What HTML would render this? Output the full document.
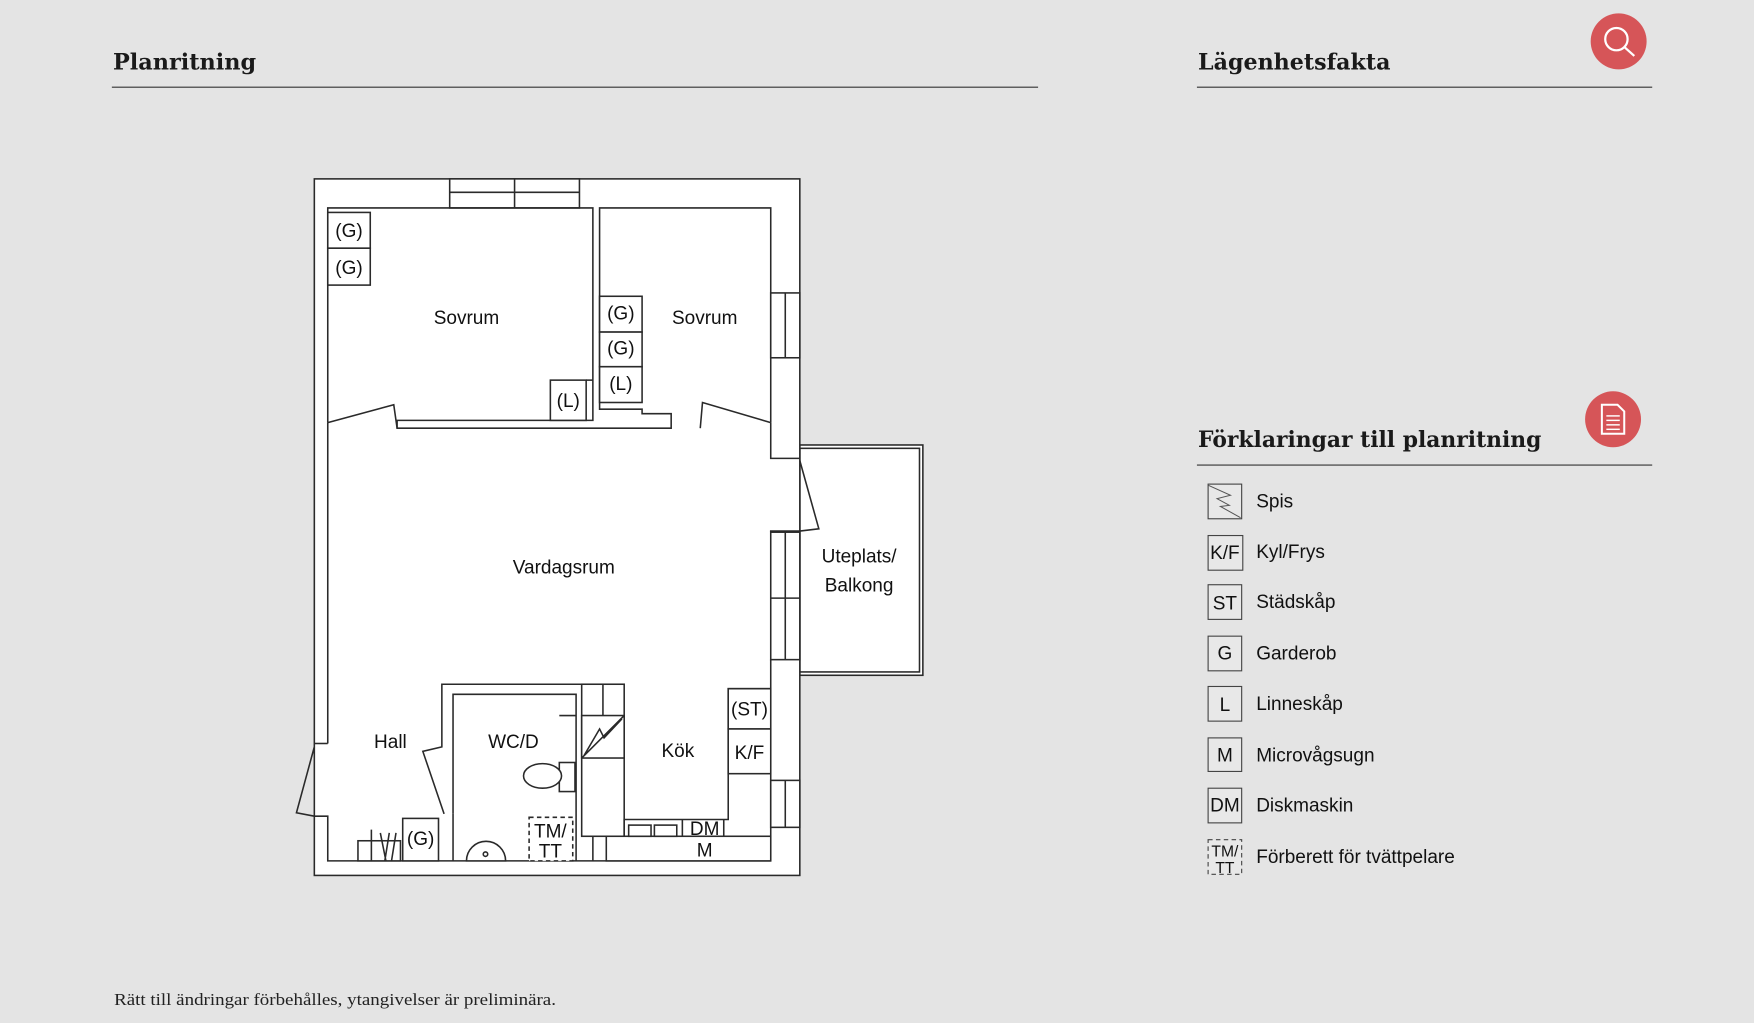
<!DOCTYPE html>
<html><head><meta charset="utf-8"><style>
html,body{margin:0;padding:0;background:#e4e4e4;}
svg{display:block}
</style></head><body>
<svg width="1754" height="1023" viewBox="0 0 1568 915" preserveAspectRatio="none" xmlns="http://www.w3.org/2000/svg">
<rect width="1568" height="915" fill="#e4e4e4"/>
<g font-family="DejaVu Serif, serif" fill="#1a1a1a" font-weight="bold">
<text x="101" y="62" font-size="20" textLength="128" lengthAdjust="spacingAndGlyphs">Planritning</text>
<text x="1071" y="62" font-size="20" textLength="172" lengthAdjust="spacingAndGlyphs">Lägenhetsfakta</text>
<text x="1071" y="400" font-size="20" textLength="307" lengthAdjust="spacingAndGlyphs">Förklaringar till planritning</text>
</g>
<line x1="100" y1="78" x2="928" y2="78" stroke="#333" stroke-width="1"/>
<line x1="1070" y1="78" x2="1477" y2="78" stroke="#333" stroke-width="1"/>
<line x1="1070" y1="416" x2="1477" y2="416" stroke="#333" stroke-width="1"/>
<circle cx="1447" cy="37" r="25" fill="#d65558"/>
<circle cx="1445" cy="35" r="10" fill="none" stroke="#fff" stroke-width="2"/>
<line x1="1452" y1="42" x2="1461" y2="50" stroke="#fff" stroke-width="2"/>
<circle cx="1442" cy="375" r="25" fill="#d65558"/>
<path d="M1432 362 h14 l6 6 v20 h-20 z" fill="none" stroke="#fff" stroke-width="1.8"/>
<g stroke="#fff" stroke-width="1.3"><line x1="1436" y1="372" x2="1448" y2="372"/><line x1="1436" y1="376" x2="1448" y2="376"/><line x1="1436" y1="380" x2="1448" y2="380"/><line x1="1436" y1="384" x2="1448" y2="384"/></g>

<!-- legend -->
<g font-family="Liberation Sans, sans-serif" font-size="17" fill="#111">
<g fill="#e8e8e8" stroke="#444" stroke-width="1">
<rect x="1080" y="433" width="30" height="31"/>
<rect x="1080" y="479" width="31" height="31"/>
<rect x="1080" y="523" width="30" height="31"/>
<rect x="1080" y="569" width="30" height="31"/>
<rect x="1080" y="614" width="30" height="31"/>
<rect x="1080" y="660" width="30" height="30"/>
<rect x="1080" y="705" width="30" height="31"/>
<rect x="1080" y="751" width="30" height="31" stroke-dasharray="4 3"/>
</g>
<path d="M1080 434 L1100 443 L1088 446 L1099 452 L1091 453 L1109 463" fill="none" stroke="#555" stroke-width="0.9"/>
<text x="1095" y="500" text-anchor="middle">K/F</text>
<text x="1095" y="545" text-anchor="middle">ST</text>
<text x="1095" y="590" text-anchor="middle">G</text>
<text x="1095" y="636" text-anchor="middle">L</text>
<text x="1095" y="681" text-anchor="middle">M</text>
<text x="1095" y="726" text-anchor="middle">DM</text>
<text x="1095" y="766" text-anchor="middle" font-size="14">TM/</text>
<text x="1095" y="781" text-anchor="middle" font-size="14">TT</text>
<text x="1123" y="454">Spis</text>
<text x="1123" y="499">Kyl/Frys</text>
<text x="1123" y="544">Städskåp</text>
<text x="1123" y="590">Garderob</text>
<text x="1123" y="635">Linneskåp</text>
<text x="1123" y="681">Microvågsugn</text>
<text x="1123" y="726">Diskmaskin</text>
<text x="1123" y="772">Förberett för tvättpelare</text>
</g>
<text x="102" y="899" font-family="Liberation Serif, serif" font-size="15" fill="#222" textLength="395" lengthAdjust="spacingAndGlyphs">Rätt till ändringar förbehålles, ytangivelser är preliminära.</text>

<!-- floor plan -->
<g fill="#fff" stroke="#2a2a2a" stroke-width="1.4">
<rect x="715" y="398" width="110" height="206"/>
<rect x="715" y="401" width="107" height="200" fill="none"/>
<rect x="281" y="160" width="434" height="623"/>
<rect x="402" y="160" width="116" height="26"/>
<line x1="460" y1="160" x2="460" y2="186"/><line x1="402" y1="172" x2="518" y2="172"/>
<path d="M293 378 V186 H530 V376 H355 V383 H600 V370 H574 V366 H536 V186 H689 V378" fill="none"/>
<path d="M293 378 L352 362 L355 383" fill="none"/>
<path d="M689 378 L628 360 L626 383" fill="none"/>
<path d="M293 378 V665" fill="none"/>
<path d="M689 378 V410 H715" fill="none"/>
<rect x="293" y="190" width="38" height="32"/><rect x="293" y="222" width="38" height="33"/>
<rect x="492" y="340" width="32" height="36"/><line x1="524" y1="340" x2="530" y2="340"/>
<rect x="536" y="265" width="38" height="32"/><rect x="536" y="297" width="38" height="31"/><rect x="536" y="328" width="38" height="32"/>
<rect x="689" y="262" width="26" height="58"/><line x1="702" y1="262" x2="702" y2="320"/>
<path d="M715 412 L732 473 L715 475" fill="none"/>
<rect x="689" y="476" width="26" height="114"/><line x1="702" y1="476" x2="702" y2="590"/><line x1="689" y1="535" x2="715" y2="535"/>
<path d="M689 476 V475 H715" fill="none"/>
<path d="M689 590 V770" fill="none"/>
<rect x="689" y="698" width="26" height="42"/><line x1="702" y1="698" x2="702" y2="740"/>
<path d="M281 665 H293" fill="none"/>
<path d="M281 668 L265 727 L281 730 H293 V770 H689" fill="none"/>
<path d="M397 728 L378 672 L395 668 V612 H530 V770" fill="none"/>
<path d="M405 728 V621 H515 V770" fill="none"/>
<path d="M405 728 V770" fill="none"/>
<rect x="520" y="612" width="38" height="136"/>
<line x1="539" y1="612" x2="539" y2="640"/>
<rect x="520" y="640" width="38" height="38"/>
<path d="M520 678 L558 640 M522 676 L536 652 L540 660 L556 643" fill="none"/>
<path d="M558 748 V733 H651 V616 H689" fill="none"/>
<rect x="651" y="616" width="38" height="36"/><rect x="651" y="652" width="38" height="40"/>
<line x1="558" y1="748" x2="689" y2="748"/>
<rect x="542" y="748" width="147" height="22"/>
<rect x="562" y="738" width="20" height="10"/><rect x="585" y="738" width="20" height="10"/>
<line x1="610" y1="733" x2="610" y2="748"/><line x1="647" y1="733" x2="647" y2="748"/>
<rect x="500" y="682" width="14" height="26"/>
<ellipse cx="485" cy="694" rx="17" ry="11"/>
<path d="M417 770 A17 17 0 0 1 452 770 Z"/>
<circle cx="434" cy="764" r="2"/>
<line x1="500" y1="640" x2="515" y2="640"/>
<rect x="473" y="731" width="39" height="39" stroke-dasharray="4 3"/>
<rect x="360" y="732" width="32" height="38"/>
<rect x="320" y="752" width="38" height="18"/>
<path d="M332 742 V770 M340 745 L345 770 M348 745 L344 770 M354 745 L350 770" fill="none"/>
</g>
<g font-family="Liberation Sans, sans-serif" font-size="17" fill="#111" text-anchor="middle">
<text x="312" y="212">(G)</text><text x="312" y="245">(G)</text>
<text x="508" y="364">(L)</text>
<text x="555" y="286">(G)</text><text x="555" y="317">(G)</text><text x="555" y="349">(L)</text>
<text x="417" y="290">Sovrum</text><text x="630" y="290">Sovrum</text>
<text x="504" y="513">Vardagsrum</text>
<text x="768" y="503">Uteplats/</text><text x="768" y="529">Balkong</text>
<text x="349" y="669">Hall</text><text x="459" y="669">WC/D</text><text x="606" y="677">Kök</text>
<text x="670" y="640">(ST)</text><text x="670" y="679">K/F</text>
<text x="376" y="756">(G)</text>
<text x="630" y="747">DM</text><text x="630" y="766">M</text>
<text x="492" y="749">TM/</text><text x="492" y="767">TT</text>
</g>
</svg>
</body></html>
